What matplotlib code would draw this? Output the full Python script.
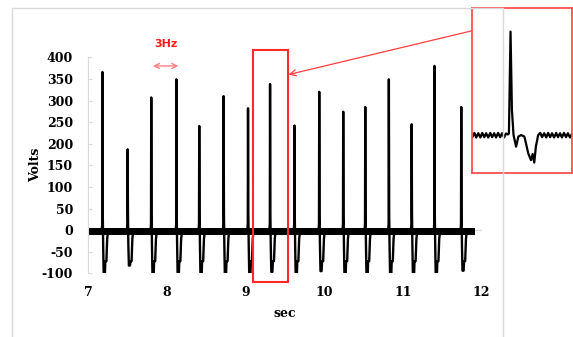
import matplotlib
matplotlib.use('Agg')
import matplotlib.pyplot as plt
from matplotlib.patches import Rectangle

plt.rcParams['font.family'] = ['DejaVu Serif']
plt.rcParams['axes.unicode_minus'] = False

######################## DATA ###################################################
# spike times (sec), peak and trough (Volts)
spike_t = [7.18, 7.50, 7.80, 8.12, 8.41, 8.72, 9.03, 9.31,
           9.62, 9.935, 10.24, 10.52, 10.82, 11.11, 11.40, 11.74]
spike_peak = [366, 187, 307, 349, 241, 310, 282, 338,
              242, 320, 274, 285, 349, 245, 380, 285]
spike_trough = [-110, -82, -110, -110, -110, -110, -110, -97,
                -110, -95, -110, -110, -110, -110, -110, -94]

# shape of one beat around its peak: offset (sec) and level ('P' = peak, 'T' = trough)
beat_dt = [-0.010, -0.003, 0.0, 0.004, 0.009, 0.016, 0.030, 0.036, 0.050, 0.060, 0.070]
beat_v = [-4, 15, 'P', 38, -35, 'T', 'T', -72, -72, -20, -4]

# baseline noise band
band_t = [7.0, 11.92]
band_lo = [-12, -12]
band_hi = [4, 4]

# zoomed beat shown in the inset (ms from the peak, Volts)
inset_t = [-166, -157, -149, -140, -131, -123, -114, -106, -97, -88, -80, -71,
           -63, -54, -45, -37, -28, -20, -11, -7, 0, 6, 13, 24, 34, 46, 60, 67,
           77, 89, 96, 103, 110, 120, 129, 137, 146, 155, 163, 172, 180, 189,
           198, 206, 215, 223, 232, 241, 249, 258, 266]
inset_v = [-7, 7, -8, 6, -8, 7, -7, 6, -8, 7, -7, 6,
           -8, 7, -7, 6, -8, 5, 2, 5, 338, 82, 0, -38, -5, 0, -5, -27,
           -60, -82, -62, -90, -38, 0, 7, -7, 6, -8, 7, -7, 6, -8,
           7, -7, 6, -8, 7, -7, 6, -8, 3]

y_ticks = [-100, -50, 0, 50, 100, 150, 200, 250, 300, 350, 400]
x_ticks = [7, 8, 9, 10, 11, 12]

######################## PLOT ############################
grey = '#d9d9d9'
fig = plt.figure(figsize=(5.73, 3.37), dpi=100)

# chart area border
fig.add_artist(Rectangle((12 / 573, -0.01), (503 - 12) / 573, 1.01 - 8 / 337,
                         transform=fig.transFigure, fill=False, ec=grey, lw=1))

ax = fig.add_axes([88.3 / 573, (337 - 273.3) / 337, 393.4 / 573, 216 / 337])
ax.set_xlim(7, 12)
ax.set_ylim(-100, 400)

ax.axhline(0, color=grey, lw=1, zorder=0)
ax.fill_between(band_t, band_lo, band_hi, color='black', lw=0, zorder=2)

for t0, p, tr in zip(spike_t, spike_peak, spike_trough):
    xs = [t0 + d for d in beat_dt]
    ys = [p if v == 'P' else (tr if v == 'T' else v) for v in beat_v]
    ax.plot(xs, ys, color='black', lw=1.7, zorder=3)

for s in ['top', 'right', 'bottom']:
    ax.spines[s].set_visible(False)
ax.spines['left'].set_color(grey)
ax.set_yticks(y_ticks)
ax.set_xticks(x_ticks)
ax.tick_params(axis='y', direction='in', length=3, color=grey, pad=11, labelsize=9)
ax.tick_params(axis='x', length=0, pad=9, labelsize=9)
for lab in ax.get_xticklabels() + ax.get_yticklabels():
    lab.set_fontweight('bold')
ax.set_xlabel('sec', fontweight='bold', fontsize=9, labelpad=6)
ax.set_ylabel('Volts', fontweight='bold', fontsize=9, labelpad=0)

# selection box around one beat
ax.add_patch(Rectangle((9.097, -120), 0.444, 537, fill=False, ec='#ff2a2a',
                       lw=1.5, clip_on=False, zorder=5))

# 3Hz marker
ax.annotate('', xy=(8.18, 380), xytext=(7.785, 380),
            arrowprops=dict(arrowstyle='<->', color='#ff8080', lw=1,
                            mutation_scale=9), annotation_clip=False)
ax.text(7.985, 430, '3Hz', color='#ff1a1a', fontsize=8, fontweight='bold',
        family='DejaVu Sans', ha='center', va='center', clip_on=False)

# arrow from inset to the box
ax.annotate('', xy=(9.545, 360), xycoords='data',
            xytext=(472.3 / 573, 1 - 30.7 / 337), textcoords='figure fraction',
            arrowprops=dict(arrowstyle='->', color='#ff4040', lw=0.9,
                            mutation_scale=11, shrinkA=0, shrinkB=0),
            annotation_clip=False)

# inset
axin = fig.add_axes([472.3 / 573, (337 - 172.7) / 337, 99.5 / 573, 164.4 / 337])
axin.plot(inset_t, inset_v, color='black', lw=1.6)
axin.set_xlim(-166, 266)
axin.set_ylim(-123, 414)
axin.set_xticks([])
axin.set_yticks([])
for s in axin.spines.values():
    s.set_color('#ff5050')
    s.set_linewidth(1.3)

fig.savefig('out.png', dpi=100)
